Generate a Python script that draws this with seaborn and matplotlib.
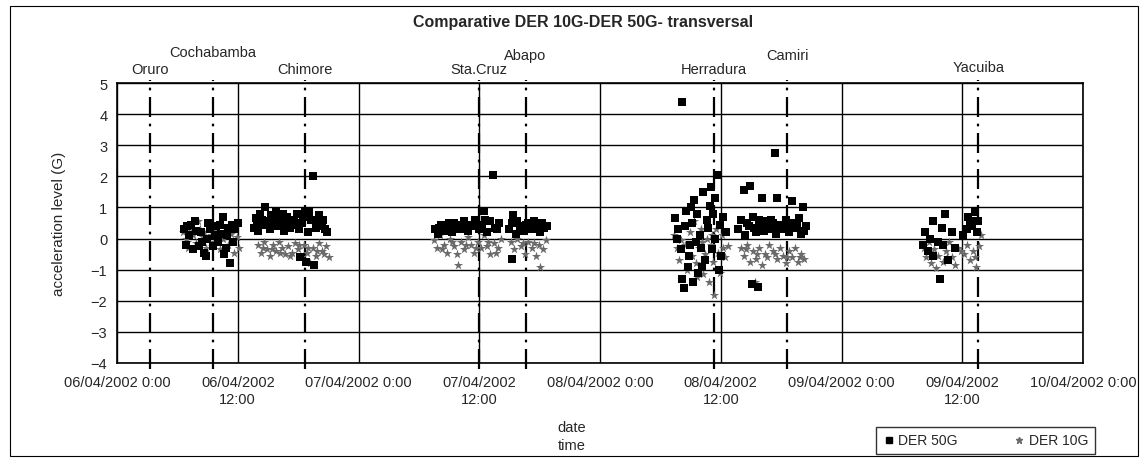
import matplotlib
matplotlib.use("Agg")
import matplotlib.pyplot as plt
from matplotlib.lines import Line2D
from matplotlib.patches import Rectangle
import seaborn as sns
import pandas as pd

# ── DATA ──────────────────────────────────────────────────────────────
START = pd.Timestamp("2002-04-06 00:00")

# DER 50G : hours after 06/04/2002 0:00, acceleration (G)
der50_hours = [
    6.7, 6.9, 7.2, 7.4, 7.6, 7.8, 8.1, 8.3, 8.6, 8.9, 9.2, 9.5, 9.8, 10.0, 10.3, 10.5, 10.6, 10.9, 11.2, 11.5, 11.7, 12.0,
    7.0, 7.9, 8.4, 9.0, 9.7, 10.2, 11.0, 11.4, 8.8, 10.8,
    13.6, 13.8, 14.0, 14.2, 14.5, 14.7, 15.0, 15.2, 15.5, 15.8, 16.0, 16.3, 16.6, 16.9, 17.2, 17.6, 17.9, 18.1, 18.4,
    18.7, 19.0, 19.3, 19.5, 19.8, 20.1, 20.4, 20.7, 18.8, 19.6, 18.2, 20.9,
    13.9, 14.4, 15.3, 16.1, 16.5, 17.0, 17.8, 18.5, 19.1, 20.0, 20.5, 15.7,
    31.6, 31.9, 32.2, 32.6, 33.0, 33.3, 33.7, 34.1, 34.5, 34.9, 35.2, 35.6, 36.0, 36.3, 36.5, 36.8, 37.1, 37.4, 37.6, 38.0,
    32.0, 32.9, 33.5, 34.3, 35.0, 35.8, 36.6, 37.8,
    39.0, 39.3, 39.4, 39.3, 39.7, 40.0, 40.4, 40.8, 41.2, 41.6, 42.0, 42.4, 42.7,
    39.8, 40.6, 41.4, 42.2,
    56.1, 55.5, 55.8, 56.0, 56.1, 56.4, 56.7, 56.8, 57.0, 57.2, 57.3, 57.5, 57.7, 57.9, 58.2, 58.4, 58.6, 58.9, 59.0,
    59.1, 59.4, 59.4, 59.6, 59.8, 60.0, 60.2, 60.5, 56.3, 57.6, 58.0,
    55.7, 56.5, 57.1, 58.1, 58.7, 59.2, 59.9, 56.9,
    61.7, 62.0, 62.3, 62.4, 62.8, 62.9, 63.1, 63.2, 63.5, 63.7, 63.9, 64.1, 64.3, 64.6, 64.9, 65.2, 65.4, 65.5, 65.6,
    65.9, 66.2, 66.5, 66.8, 67.1, 67.2, 67.5, 67.8, 68.0, 68.2, 68.5,
    62.6, 63.3, 63.8, 64.4, 65.0, 65.7, 66.4, 67.0, 67.6, 68.3,
    80.1, 80.3, 80.6, 81.1, 81.1, 81.6, 81.8, 82.0, 82.3, 82.6, 83.0, 83.3, 84.1, 84.5, 84.6, 85.0, 85.3, 85.6,
    80.8, 82.1, 84.8, 85.5,
]
der50_values = [
    0.3, -0.2, 0.1, 0.45, -0.35, 0.55, -0.25, 0.2, -0.45, 0.0, 0.3, -0.25, 0.4, -0.1, 0.15, 0.7, -0.5, 0.1, -0.8, -0.1, 0.3, 0.5,
    0.4, 0.25, -0.1, 0.5, 0.1, 0.45, 0.35, 0.45, -0.55, -0.3,
    0.35, 0.65, 0.25, 0.8, 0.45, 1.0, 0.55, 0.3, 0.6, 0.85, 0.4, 0.5, 0.25, 0.7, 0.35, 0.6, 0.8, 0.3, 0.5,
    0.9, 0.2, 0.6, 2.0, 0.35, 0.75, 0.4, 0.3, -0.75, -0.85, -0.6, 0.2,
    0.5, 0.6, 0.75, 0.65, 0.8, 0.5, 0.45, 0.7, 0.85, 0.55, 0.6, 0.4,
    0.3, 0.15, 0.45, 0.25, 0.5, 0.2, 0.4, 0.3, 0.55, 0.25, 0.45, 0.6, 0.3, 0.45, 0.9, 0.2, 0.55, 2.05, 0.35, 0.5,
    0.35, 0.35, 0.5, 0.45, 0.4, 0.4, 0.6, 0.3,
    0.3, 0.5, 0.75, -0.65, 0.15, 0.4, 0.25, 0.5, 0.3, 0.45, 0.2, 0.35, 0.4,
    0.55, 0.45, 0.55, 0.5,
    4.4, 0.65, 0.3, -0.35, -1.3, 0.4, -0.9, -0.55, 1.0, -1.4, 1.25, -0.1, -1.1, 0.1, 1.5, -0.7, 0.6, 1.05, 1.65,
    -0.35, 1.3, 0.0, 2.05, -1.0, -0.55, 0.7, 0.2, -1.6, 0.8, -0.3,
    0.0, 0.9, 0.5, -0.9, 0.35, 0.8, 0.45, -0.2,
    0.3, 0.6, 1.55, 0.1, 0.4, 1.7, -1.45, 0.7, 0.2, -1.55, 0.45, 1.3, 0.25, 0.55, 0.3, 0.5, 2.75, 0.15, 1.3,
    0.45, 0.3, 0.6, 0.2, 1.2, 0.5, 0.35, 0.65, 0.15, 1.0, 0.4,
    0.5, 0.35, 0.6, 0.4, 0.6, 0.3, 0.45, 0.35, 0.5, 0.25,
    -0.2, 0.2, -0.4, 0.55, -0.55, -0.1, -1.3, 0.35, 0.8, -0.7, 0.2, -0.3, 0.1, 0.3, 0.7, 0.4, 0.85, 0.55,
    0.0, -0.2, 0.55, 0.2,
]

# DER 10G
der10_hours = [
    6.6, 6.9, 7.1, 7.3, 7.6, 7.9, 8.2, 8.5, 8.8, 9.0, 9.3, 9.6, 9.9, 10.2, 10.5, 10.8, 11.0, 11.3, 11.6, 11.9, 12.1, 10.1, 8.0,
    7.0, 8.6, 9.4, 10.6, 11.5, 9.8,
    14.0, 14.3, 14.6, 14.9, 15.2, 15.5, 15.8, 16.1, 16.4, 16.7, 17.0, 17.4, 17.7, 18.0, 18.3, 18.6, 18.9, 19.2, 19.5,
    19.8, 20.1, 20.4, 20.8, 21.1,
    14.5, 15.4, 16.2, 17.2, 18.1, 19.0, 19.9, 20.6,
    31.5, 31.8, 32.1, 32.5, 32.8, 33.1, 33.5, 33.8, 34.2, 34.5, 34.9, 35.2, 35.5, 35.9, 36.2, 36.5, 36.8, 37.1, 37.5, 37.9, 38.2, 33.9,
    32.3, 33.3, 34.7, 35.7, 36.9, 37.7,
    39.2, 39.5, 39.8, 40.1, 40.5, 40.8, 41.2, 41.6, 41.9, 42.0, 42.3, 42.6,
    40.3, 41.4,
    55.4, 55.7, 55.9, 56.2, 56.4, 56.6, 56.9, 57.1, 57.3, 57.5, 57.8, 58.0, 58.2, 58.4, 58.6, 58.8, 59.0, 59.2, 59.3,
    59.5, 59.7, 59.9, 60.1, 60.4, 60.7,
    56.0, 57.0, 58.1, 59.1, 60.2, 57.6,
    62.0, 62.3, 62.6, 62.9, 63.2, 63.4, 63.5, 63.8, 64.1, 64.4, 64.8, 65.2, 65.6, 65.9, 66.2, 66.5, 66.8, 67.1, 67.4, 67.7, 68.0, 68.3,
    62.5, 63.6, 64.6, 65.4, 66.6, 67.9,
    80.2, 80.4, 80.7, 80.9, 81.2, 81.4, 81.6, 81.9, 82.1, 82.4, 82.7, 83.0, 83.3, 83.6, 84.2, 84.5, 84.8, 85.1, 85.4, 85.7, 85.9,
    81.0, 82.5, 83.9, 85.3,
]
der10_values = [
    0.2, 0.0, -0.3, 0.35, 0.1, -0.15, 0.3, 0.05, -0.3, 0.4, 0.1, -0.1, 0.25, -0.35, 0.0, 0.3, -0.2, 0.15, -0.45, 0.05, -0.3, 0.5, 0.55,
    -0.1, 0.2, -0.25, 0.15, 0.3, 0.05,
    -0.2, -0.45, -0.1, -0.35, -0.55, -0.2, -0.4, -0.1, -0.3, -0.5, -0.25, -0.45, -0.15, -0.35, -0.6, -0.2, -0.45, -0.8, -0.3,
    -0.55, -0.15, -0.4, -0.25, -0.6,
    -0.3, -0.35, -0.45, -0.55, -0.2, -0.3, -0.4, -0.5,
    -0.05, -0.3, 0.1, -0.2, -0.45, 0.0, -0.25, -0.5, -0.1, -0.35, 0.05, -0.2, -0.45, -0.1, -0.3, 0.1, -0.25, -0.5, -0.15, -0.3, 0.0, -0.85,
    -0.35, -0.1, -0.2, -0.3, -0.1, -0.45,
    -0.1, -0.35, 0.0, -0.25, -0.5, -0.1, -0.3, -0.55, -0.2, -0.9, -0.35, -0.05,
    -0.15, -0.15,
    0.1, -0.3, -0.7, 0.4, -0.2, -1.0, 0.2, -0.55, 0.55, -0.8, -0.3, 0.3, -1.15, -0.5, 0.0, -1.4, -0.2, -0.75, -1.8,
    0.3, -0.45, -1.1, 0.1, -0.6, -0.25,
    -0.05, -0.2, -0.1, 0.1, -0.3, -1.25,
    -0.3, -0.55, -0.2, -0.75, -0.4, -1.4, -0.65, -0.3, -0.85, -0.5, -0.2, -0.4, -0.65, -0.3, -0.55, -0.8, -0.4, -0.6, -0.3, -0.75, -0.5, -0.65,
    -0.35, -0.5, -0.6, -0.5, -0.6, -0.6,
    -0.3, -0.6, -0.1, -0.8, -0.35, -0.95, -0.55, -0.2, -0.75, -0.4, -0.1, -0.6, -0.85, -0.3, -0.5, -0.2, -0.7, -0.4, -0.9, -0.25, 0.1,
    -0.5, -0.6, -0.4, -0.6,
]

# stations along the route (hours after start)
station_names = ["Oruro", "Cochabamba", "Chimore", "Sta.Cruz", "Abapo", "Herradura", "Camiri", "Yacuiba"]
station_hours = [3.3, 9.5, 18.7, 36.0, 40.6, 59.3, 66.6, 85.6]
station_label_y = [5.45, 6.0, 5.45, 5.45, 5.9, 5.45, 5.9, 5.5]

tick_labels = ["06/04/2002 0:00", "06/04/2002\n12:00", "07/04/2002 0:00", "07/04/2002\n12:00",
               "08/04/2002 0:00", "08/04/2002\n12:00", "09/04/2002 0:00", "09/04/2002\n12:00",
               "10/04/2002 0:00"]

# ── FRAME ─────────────────────────────────────────────────────────────
df = pd.concat([
    pd.DataFrame({"time": START + pd.to_timedelta(der50_hours, unit="h"),
                  "acc": der50_values, "series": "DER 50G"}),
    pd.DataFrame({"time": START + pd.to_timedelta(der10_hours, unit="h"),
                  "acc": der10_values, "series": "DER 10G"}),
])

sns.set_style("white")
plt.rcParams["font.family"] = ["Liberation Sans", "DejaVu Sans"]

fig = plt.figure(figsize=(11.42, 4.64), dpi=100)
ax = fig.add_axes([117 / 1142, 100 / 464, 966 / 1142, 280 / 464])

# grid
for v in range(-4, 6):
    ax.axhline(v, color="black", lw=1.0, zorder=1)
ticks = pd.date_range(START, periods=9, freq="12h")
for t in ticks:
    ax.axvline(t, color="black", lw=1.0, zorder=1)

# station lines
for name, h, ly in zip(station_names, station_hours, station_label_y):
    t = START + pd.Timedelta(hours=h)
    ax.plot([t, t], [-4.2, 5.1], color="black", lw=1.6,
            linestyle=(0, (9, 3, 1.2, 3)), zorder=2, clip_on=False)
    ax.text(t, ly, name, ha="center", va="center", fontsize=10.5)

sns.scatterplot(data=df[df.series == "DER 10G"], x="time", y="acc", ax=ax,
                marker="*", s=48, color="#6a6a6a", linewidth=0, legend=False, zorder=3)
sns.scatterplot(data=df[df.series == "DER 50G"], x="time", y="acc", ax=ax,
                marker="s", s=40, color="black", linewidth=0, legend=False, zorder=4)

ax.set_xlim(ticks[0], ticks[-1])
ax.set_ylim(-4, 5)
ax.set_yticks(range(-4, 6))
ax.set_xticks(ticks)
ax.set_xticklabels(tick_labels, fontsize=10.5)
ax.tick_params(axis="y", labelsize=10.5, length=3, width=1, pad=4)
ax.tick_params(axis="x", length=3, width=1, pad=6)
for s in ax.spines.values():
    s.set_color("black")
    s.set_linewidth(1.2)
ax.set_xlabel("")
ax.set_ylabel("acceleration level (G)", fontsize=11, labelpad=18)

fig.text(583 / 1142, 1 - 22 / 464, "Comparative DER 10G-DER 50G- transversal",
         ha="center", va="center", fontsize=11.5, fontweight="bold")
fig.text(572 / 1142, 1 - 428 / 464, "date", ha="center", va="center", fontsize=10.5)
fig.text(572 / 1142, 1 - 446 / 464, "time", ha="center", va="center", fontsize=10.5)

handles = [Line2D([], [], marker="s", color="black", ls="", markersize=4),
           Line2D([], [], marker="*", color="#6a6a6a", ls="", markersize=5)]
leg = fig.legend(handles, ["DER 50G", "DER 10G"], ncol=2, fontsize=10,
                 loc="center", bbox_to_anchor=(846 / 1142, 6 / 464, 279 / 1142, 33 / 464),
                 frameon=True, fancybox=False, edgecolor="black", handletextpad=0.3,
                 columnspacing=4.0, handlelength=0.8, borderpad=0.5)
leg.get_frame().set_linewidth(1.0)

fig.patches.append(Rectangle((10 / 1142, 7 / 464), 1128 / 1142, 450 / 464, transform=fig.transFigure,
                             fill=False, edgecolor="black", lw=0.8))

fig.savefig("out.png", dpi=100)
